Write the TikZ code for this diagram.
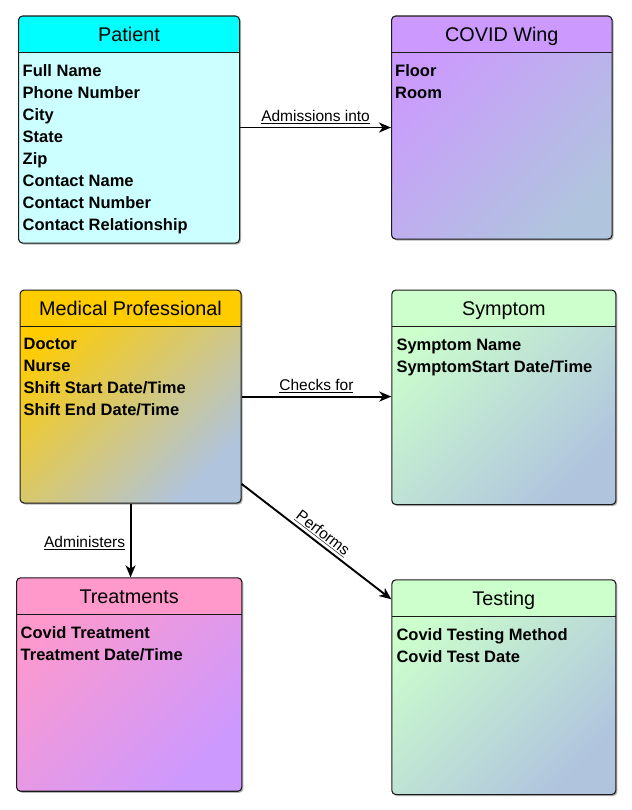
\documentclass[tikz,border=0pt]{standalone}
\usepackage{fontspec}
\setmainfont{Liberation Sans}
\usetikzlibrary{arrows.meta,shadows,calc}
\definecolor{hcyan}{HTML}{00FFFF}
\definecolor{bcyan}{HTML}{CCFFFF}
\definecolor{hpurple}{HTML}{CC99FF}
\definecolor{steel}{HTML}{B0C4DE}
\definecolor{horange}{HTML}{FFCC00}
\definecolor{hgreen}{HTML}{CCFFCC}
\definecolor{hpink}{HTML}{FF99CC}
\definecolor{edge}{HTML}{1A1A1A}
\begin{document}
\begin{tikzpicture}[x=1pt,y=1pt,
 ent/.style={draw=edge, line width=1.1pt, rounded corners=4pt, anchor=north west, inner sep=0pt,
   drop shadow={shadow xshift=1.5pt, shadow yshift=-1.5pt, opacity=0.3, fill=black}},
 hdr/.style={path picture={\fill[#1] (path picture bounding box.north west) rectangle ([yshift=-36.5pt]path picture bounding box.north east);
   \draw[line width=1.1pt, edge] ([yshift=-36.5pt]path picture bounding box.north west) -- ([yshift=-36.5pt]path picture bounding box.north east);}},
 grad/.style 2 args={top color=#1, bottom color=#2, shading angle=45},
 ttl/.style={anchor=base, inner sep=0pt, font=\fontsize{19.8}{24}\selectfont},
 bdy/.style={anchor=north west, inner sep=0pt, align=left, font=\fontsize{16.5}{22}\selectfont\bfseries},
 arr/.style={line width=1.9pt, -{Stealth[length=12pt,width=10pt,inset=3.5pt]}},
 lbl/.style={font=\fontsize{15.5}{18}\selectfont, inner sep=0pt},
]
\useasboundingbox (0,0) rectangle (631,-810);

% Patient
\node[ent, fill=bcyan, hdr=hcyan, minimum width=221pt, minimum height=227pt] (patient) at (18,-15.5) {};
\node[ttl] (patientT) at ([yshift=-26pt]patient.north) {Patient};
\node[bdy] (patientB) at ([xshift=4.5pt,yshift=-48.8pt]patient.north west) {Full Name\\Phone Number\\City\\State\\Zip\\Contact Name\\Contact Number\\Contact Relationship};

% COVID Wing
\node[ent, grad={hpurple}{steel}, hdr=hpurple, minimum width=220.5pt, minimum height=223pt] (covid) at (391,-15.5) {};
\node[ttl] (covidT) at ([yshift=-26pt]covid.north) {COVID Wing};
\node[bdy] (covidB) at ([xshift=4pt,yshift=-48.8pt]covid.north west) {Floor\\Room};

% Medical Professional
\node[ent, grad={horange}{steel}, hdr=horange, minimum width=221pt, minimum height=213pt] (med) at (19.5,-289.5) {};
\node[ttl] (medT) at ([yshift=-26pt]med.north) {Medical Professional};
\node[bdy] (medB) at ([xshift=4pt,yshift=-48.8pt]med.north west) {Doctor\\Nurse\\Shift Start Date/Time\\Shift End Date/Time};

% Symptom
\node[ent, grad={hgreen}{steel}, hdr=hgreen, minimum width=224pt, minimum height=214.5pt] (sym) at (391.3,-289.5) {};
\node[ttl] (symT) at ([yshift=-26pt]sym.north) {Symptom};
\node[bdy] (symB) at ([xshift=5pt,yshift=-49.3pt]sym.north west) {Symptom Name\\SymptomStart Date/Time};

% Treatments
\node[ent, grad={hpink}{hpurple}, hdr=hpink, minimum width=225.3pt, minimum height=213.4pt] (treat) at (16,-577.3) {};
\node[ttl] (treatT) at ([yshift=-26.5pt]treat.north) {Treatments};
\node[bdy] (treatB) at ([xshift=4.5pt,yshift=-48.8pt]treat.north west) {Covid Treatment\\Treatment Date/Time};

% Testing
\node[ent, grad={hgreen}{steel}, hdr=hgreen, minimum width=224pt, minimum height=214.7pt] (test) at (391.3,-579.3) {};
\node[ttl] (testT) at ([yshift=-26.5pt]test.north) {Testing};
\node[bdy] (testB) at ([xshift=5pt,yshift=-49pt]test.north west) {Covid Testing Method\\Covid Test Date};

% Connectors
\draw[arr] (patient.east |- covid.west) -- node[lbl, anchor=south, outer ysep=3.5pt] (admL) {\underline{Admissions into}} (covid.west);
\draw[arr] (med.east) -- node[lbl, anchor=south, outer ysep=3.5pt] (chkL) {\underline{Checks for}} (med.east -| sym.west);
\draw[arr] (med.south) -- node[lbl, anchor=south east, xshift=-4.5pt, yshift=-10.3pt] (admnL) {\underline{Administers}} (med.south |- treat.north);
\draw[arr] ([yshift=19.7pt]med.south east) -- node[lbl, sloped, anchor=south, outer ysep=3.5pt] (perfL) {\underline{Performs}} ([yshift=-20pt]test.north west);
\end{tikzpicture}
\end{document}
